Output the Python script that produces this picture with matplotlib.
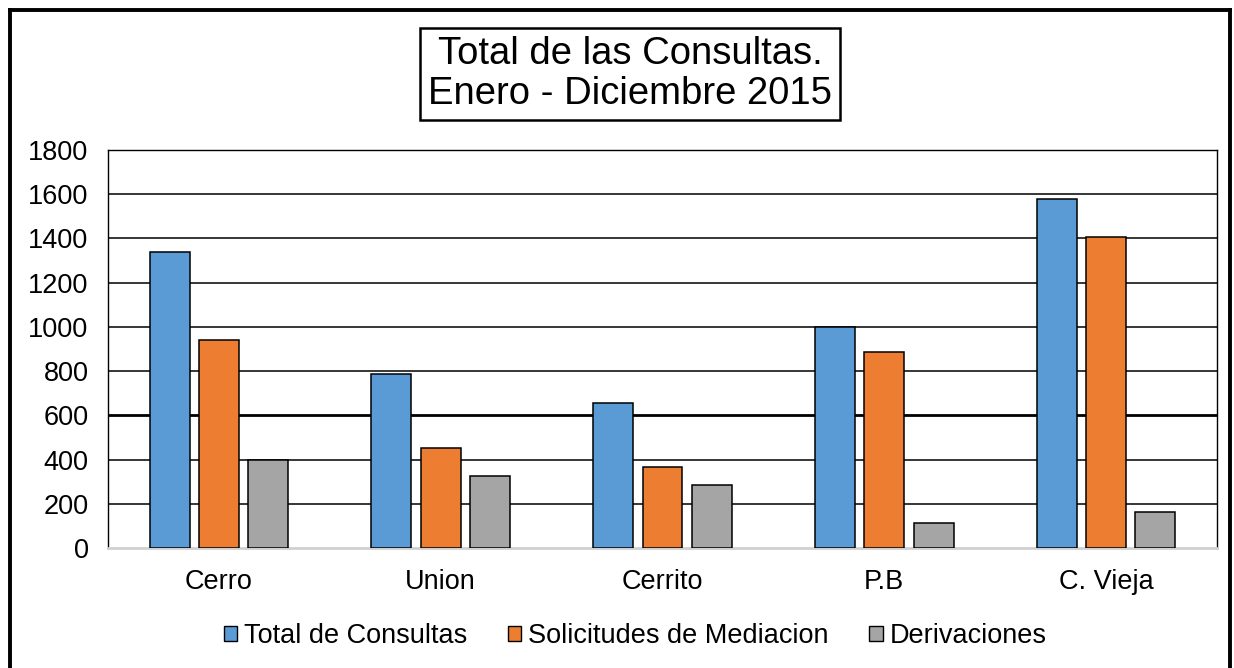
import numpy as np
import matplotlib
matplotlib.use("Agg")
import matplotlib.pyplot as plt
from matplotlib.patches import Rectangle
from matplotlib.lines import Line2D

plt.rcParams["font.family"] = ["Liberation Sans", "DejaVu Sans"]

# Data
categories = ["Cerro", "Union", "Cerrito", "P.B", "C. Vieja"]
total_consultas = [1340, 786, 657, 1001, 1577]
solicitudes = [939, 452, 368, 888, 1408]
derivaciones = [398, 326, 285, 112, 163]
series_names = ["Total de Consultas", "Solicitudes de Mediacion", "Derivaciones"]
colors = ["#5B9BD5", "#ED7D31", "#A5A5A5"]
yticks = list(range(0, 1801, 200))

W, H = 1234, 668
fig = plt.figure(figsize=(W / 100, H / 100), dpi=100)

# outer chart border (left, top, right only - bottom is cut off)
for xs, ys in [([10, 10], [H, 10]), ([10, 1230], [10, 10]), ([1230, 1230], [10, H])]:
    fig.add_artist(Line2D([v / W for v in xs], [1 - v / H for v in ys], color="black",
                          lw=2.8, transform=fig.transFigure))

# plot area: x 108..1217, y 150..548 in pixels
ax = fig.add_axes([108 / W, 1 - 548 / H, (1217 - 108) / W, (548 - 150) / H])

x = np.arange(len(categories))
width = 0.18
offset = 0.222
for i, (vals, name, c) in enumerate(zip([total_consultas, solicitudes, derivaciones],
                                        series_names, colors)):
    ax.bar(x + (i - 1) * offset, vals, width, color=c, edgecolor="black",
           linewidth=1.1, label=name, zorder=3)

ax.set_xlim(-0.5, len(categories) - 0.5)
ax.set_ylim(0, 1800)
ax.set_yticks(yticks)
ax.set_xticks(x)
ax.set_xticklabels(categories)
ax.tick_params(axis="both", length=0, labelsize=19.5, colors="black")
ax.tick_params(axis="y", pad=14)
ax.tick_params(axis="x", pad=15)

for t in yticks[1:]:
    lw = 2.0 if t == 600 else 1.1
    ax.axhline(t, color="black", lw=lw, zorder=1)

for side in ["top", "right", "left"]:
    ax.spines[side].set_color("black")
    ax.spines[side].set_linewidth(1.0)
ax.spines["bottom"].set_color("#D0D0D0")
ax.spines["bottom"].set_linewidth(2.0)

fig.text(630 / W, 1 - 74 / H, "Total de las Consultas.\nEnero - Diciembre 2015",
         ha="center", va="center", fontsize=27.5, linespacing=1.13,
         bbox=dict(boxstyle="square,pad=0.22", facecolor="white", edgecolor="black", lw=1.8))

handles = [Rectangle((0, 0), 1, 1, facecolor=c, edgecolor="black", lw=1.0) for c in colors]
fig.legend(handles, series_names, loc="center", bbox_to_anchor=(635 / W, 1 - 636 / H),
           ncol=3, frameon=False, fontsize=19.5, handlelength=0.5, handleheight=0.5,
           handletextpad=0.25, columnspacing=1.5)

fig.savefig("out.png", dpi=100)
